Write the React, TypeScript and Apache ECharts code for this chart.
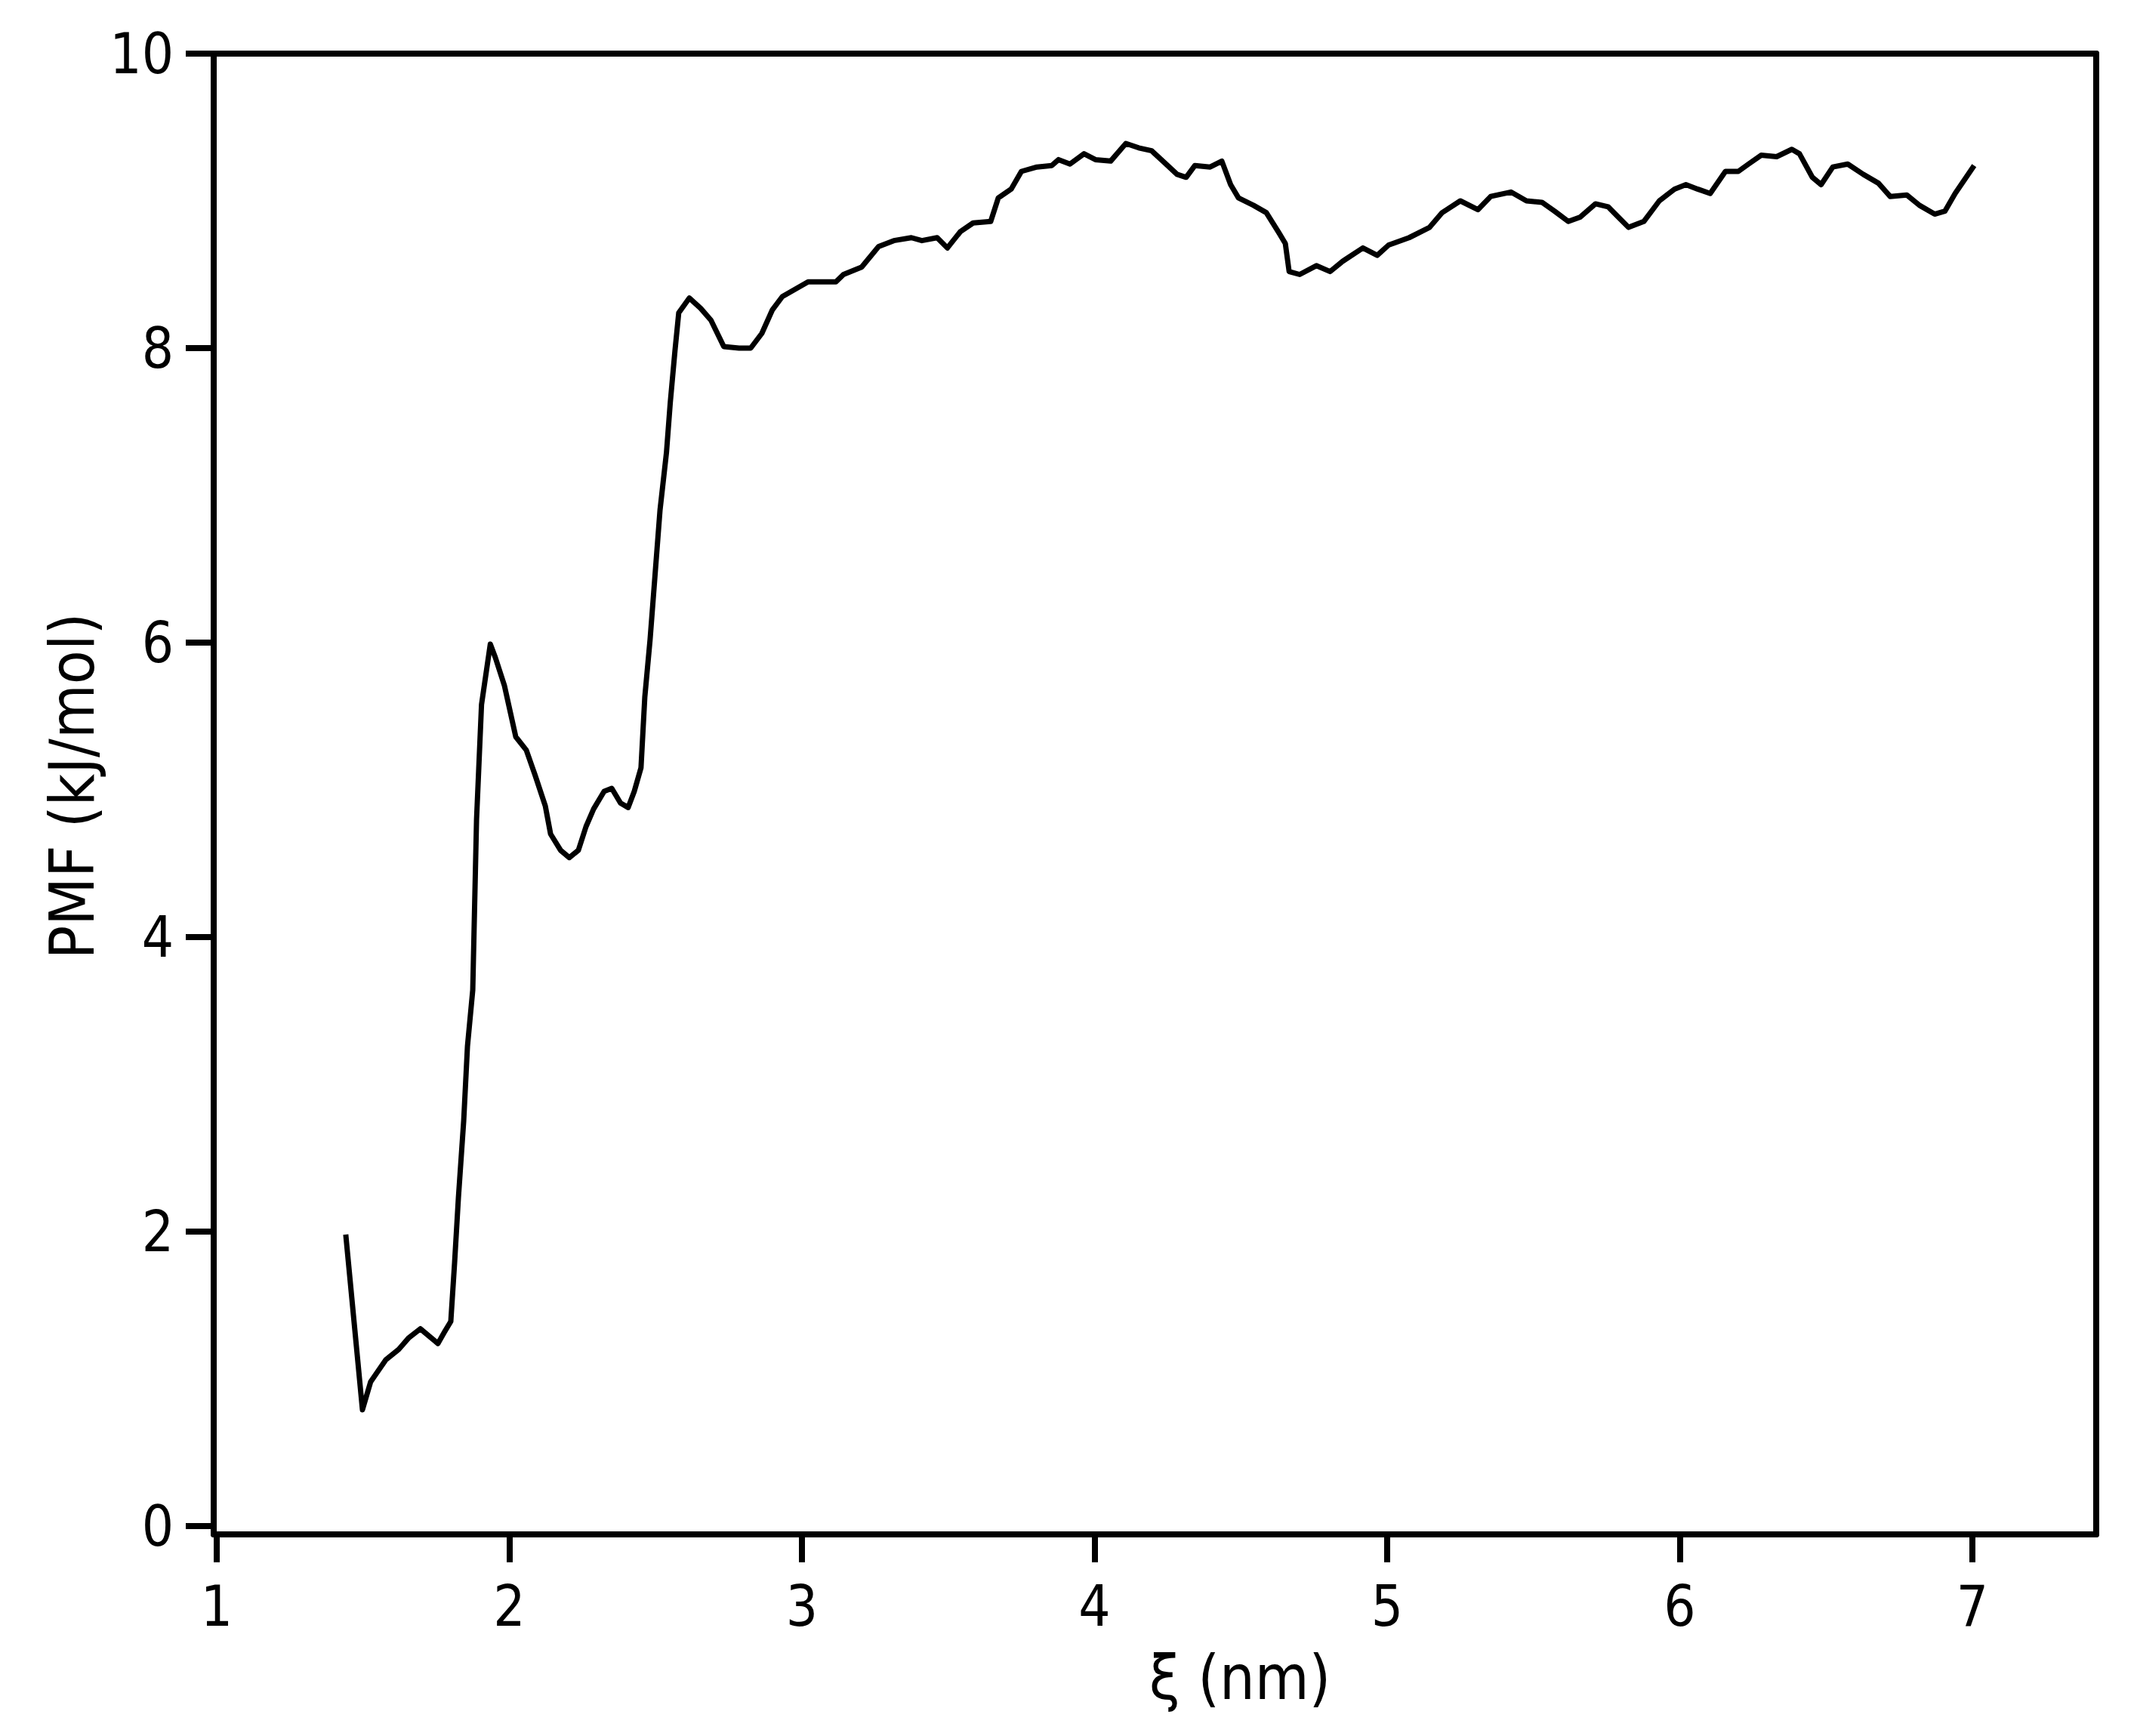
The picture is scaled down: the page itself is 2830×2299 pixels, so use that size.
import React, { useEffect, useRef } from "react";
import * as echarts from "echarts";

// reaction coordinate ξ (nm)
const xi: number[] = [
  1.441, 1.498, 1.526, 1.578, 1.622, 1.657, 1.696, 1.726, 1.756, 1.779,
  1.8, 1.813, 1.826, 1.844, 1.857, 1.875, 1.888, 1.905, 1.935, 1.952,
  1.983, 2.022, 2.058, 2.088, 2.123, 2.141, 2.175, 2.205, 2.236, 2.262,
  2.288, 2.324, 2.35, 2.38, 2.406, 2.427, 2.45, 2.463, 2.481, 2.515,
  2.537, 2.55, 2.566, 2.579, 2.615, 2.654, 2.689, 2.733, 2.785, 2.825,
  2.863, 2.899, 2.933, 2.986, 3.021, 3.116, 3.142, 3.204, 3.262, 3.314,
  3.374, 3.41, 3.462, 3.497, 3.541, 3.585, 3.645, 3.671, 3.715, 3.75,
  3.803, 3.854, 3.877, 3.916, 3.964, 4.003, 4.055, 4.107, 4.151, 4.195,
  4.239, 4.282, 4.313, 4.343, 4.395, 4.435, 4.465, 4.492, 4.543, 4.587,
  4.631, 4.652, 4.665, 4.701, 4.758, 4.805, 4.848, 4.917, 4.966, 5.005,
  5.075, 5.145, 5.188, 5.25, 5.31, 5.354, 5.423, 5.476, 5.529, 5.572,
  5.619, 5.66, 5.712, 5.755, 5.79, 5.825, 5.877, 5.93, 5.982, 6.021,
  6.061, 6.104, 6.156, 6.2, 6.235, 6.278, 6.331, 6.383, 6.409, 6.453,
  6.483, 6.523, 6.574, 6.627, 6.679, 6.719, 6.776, 6.819, 6.871, 6.906,
  6.941, 7.006,
];

// PMF (kJ/mol)
const pmf: number[] = [
  1.98, 0.79, 0.98, 1.13, 1.2, 1.28, 1.34, 1.29, 1.24, 1.32,
  1.39, 1.79, 2.23, 2.75, 3.26, 3.64, 4.8, 5.58, 5.99, 5.9,
  5.71, 5.36, 5.27, 5.1, 4.89, 4.7, 4.59, 4.54, 4.59, 4.75,
  4.87, 4.99, 5.01, 4.91, 4.88, 4.99, 5.15, 5.63, 6.02, 6.9,
  7.29, 7.63, 7.98, 8.24, 8.34, 8.27, 8.19, 8.01, 8.0, 8.0,
  8.1, 8.26, 8.35, 8.41, 8.45, 8.45, 8.5, 8.55, 8.69, 8.73,
  8.75, 8.73, 8.75, 8.68, 8.79, 8.85, 8.86, 9.02, 9.08, 9.2,
  9.23, 9.24, 9.28, 9.25, 9.32, 9.28, 9.27, 9.39, 9.36, 9.34,
  9.26, 9.18, 9.16, 9.24, 9.23, 9.27, 9.11, 9.02, 8.97, 8.92,
  8.78, 8.71, 8.52, 8.5, 8.56, 8.52, 8.59, 8.68, 8.63, 8.7,
  8.75, 8.82, 8.92, 9.0, 8.94, 9.03, 9.06, 9.0, 8.99, 8.93,
  8.86, 8.89, 8.98, 8.96, 8.89, 8.82, 8.86, 9.0, 9.08, 9.11,
  9.08, 9.05, 9.2, 9.2, 9.25, 9.31, 9.3, 9.35, 9.32, 9.16,
  9.11, 9.23, 9.25, 9.18, 9.12, 9.03, 9.04, 8.97, 8.91, 8.93,
  9.05, 9.24,
];

const xTicks: number[] = [1, 2, 3, 4, 5, 6, 7];
const yTicks: number[] = [0, 2, 4, 6, 8, 10];

const xTitle = "ξ (nm)";
const yTitle = "PMF (kJ/mol)";

const FONT = "'DejaVu Sans Condensed', 'DejaVu Sans', sans-serif";

export default function App() {
  const ref = useRef<HTMLDivElement>(null);

  useEffect(() => {
    document.body.style.margin = "0";
    const chart = echarts.init(ref.current as HTMLDivElement, null, { renderer: "svg" });
    const xMin = 0.9897;
    const xMax = 7.4232;
    const yMin = -0.0564;
    const yMax = 10;
    const axisLine = { show: true, onZero: false, lineStyle: { color: "#000", width: 8 } };
    const option: any = {
      animation: false,
      backgroundColor: "#ffffff",
      grid: { left: 283, right: 54, top: 71, bottom: 267, containLabel: false },
      xAxis: [
        {
          type: "value",
          position: "bottom",
          min: xMin,
          max: xMax,
          axisLine,
          axisTick: {
            show: true,
            inside: false,
            length: 37,
            customValues: xTicks,
            lineStyle: { color: "#000", width: 8 },
          },
          axisLabel: {
            show: true,
            customValues: xTicks,
            margin: 58,
            color: "#000",
            fontSize: 74,
            fontFamily: FONT,
            formatter: (v: number) => String(v),
          },
          splitLine: { show: false },
        },
        {
          type: "value",
          position: "top",
          min: xMin,
          max: xMax,
          axisLine,
          axisTick: { show: false },
          axisLabel: { show: false },
          splitLine: { show: false },
        },
      ],
      yAxis: [
        {
          type: "value",
          position: "left",
          min: yMin,
          max: yMax,
          axisLine,
          axisTick: {
            show: true,
            inside: false,
            length: 37,
            customValues: yTicks,
            lineStyle: { color: "#000", width: 8 },
          },
          axisLabel: {
            show: true,
            customValues: yTicks,
            margin: 53,
            color: "#000",
            fontSize: 74,
            fontFamily: FONT,
            formatter: (v: number) => String(v),
          },
          splitLine: { show: false },
        },
        {
          type: "value",
          position: "right",
          min: yMin,
          max: yMax,
          axisLine,
          axisTick: { show: false },
          axisLabel: { show: false },
          splitLine: { show: false },
        },
      ],
      graphic: [
        {
          type: "text",
          x: 1642,
          y: 2221,
          style: {
            text: xTitle,
            fill: "#000",
            fontSize: 82,
            fontFamily: FONT,
            textAlign: "center",
            textVerticalAlign: "middle",
          },
        },
        {
          type: "text",
          x: 95,
          y: 1041,
          rotation: Math.PI / 2,
          style: {
            text: yTitle,
            fill: "#000",
            fontSize: 82,
            fontFamily: FONT,
            textAlign: "center",
            textVerticalAlign: "middle",
          },
        },
      ],
      series: [
        {
          type: "line",
          xAxisIndex: 0,
          yAxisIndex: 0,
          data: xi.map((x, i) => [x, pmf[i]]),
          showSymbol: false,
          symbol: "none",
          smooth: false,
          lineStyle: { color: "#000", width: 7, cap: "butt", join: "round" },
        },
      ],
    };
    chart.setOption(option);
    return () => chart.dispose();
  }, []);

  return <div ref={ref} style={{ width: 2830, height: 2299 }} />;
}
